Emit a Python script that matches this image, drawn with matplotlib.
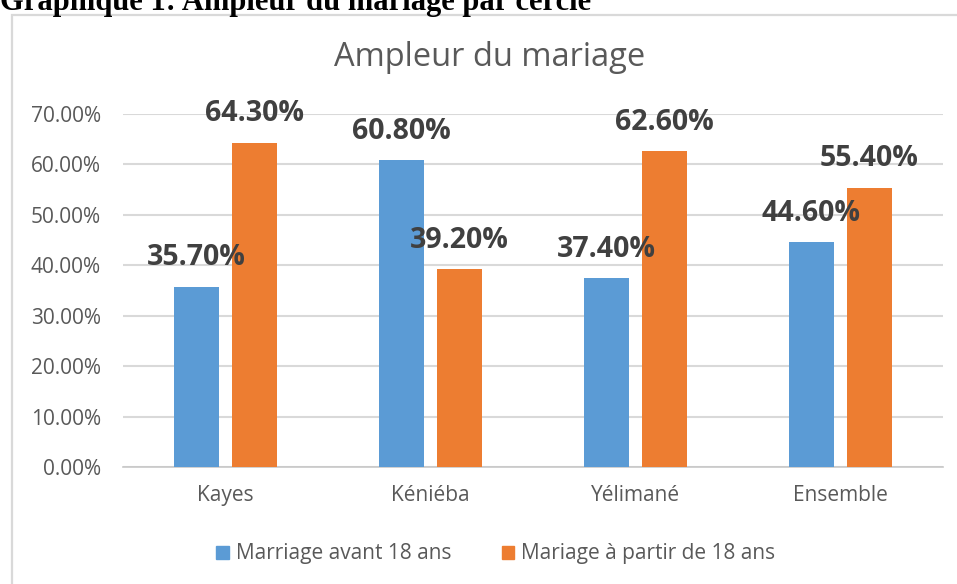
import matplotlib
matplotlib.use("Agg")
import numpy as np
from matplotlib import pyplot as plt
from matplotlib.patches import Patch, Rectangle

categories = ["Kayes", "Kéniéba", "Yélimané", "Ensemble"]
avant_18 = [0.357, 0.608, 0.374, 0.446]
apres_18 = [0.643, 0.392, 0.626, 0.554]
series_names = ["Marriage avant 18 ans", "Mariage à partir de 18 ans"]
yticks = [0.0, 0.1, 0.2, 0.3, 0.4, 0.5, 0.6, 0.7]

blue = "#5B9BD5"
orange = "#ED7D31"
grey_txt = "#595959"

plt.rcParams['font.family'] = ['Open Sans', 'DejaVu Sans']

fig = plt.figure(figsize=(9.57, 5.84), dpi=100)

# chart frame (only left and top edges visible in the crop)
fig.patches.append(Rectangle((12 / 957, -0.1), 1.2, 1 - 15 / 584 + 0.1,
                             transform=fig.transFigure, fill=False,
                             edgecolor="#D9D9D9", linewidth=1.6))

# page heading, cut off by the crop
fig.text(0.0, 1 - 10 / 584, "Graphique 1: Ampleur du mariage par cercle",
         family="Liberation Serif", fontweight="bold", fontsize=22,
         ha="left", va="baseline", color="black")

ax = fig.add_axes([123 / 957, 1 - 467 / 584, (943 - 123) / 957, (467 - 114) / 584])

x = np.arange(len(categories))
w = 0.224
off = 0.1415
b1 = ax.bar(x - off, avant_18, w, color=blue, zorder=3)
b2 = ax.bar(x + off, apres_18, w, color=orange, zorder=3)

for bars, vals in [(b1, avant_18), (b2, apres_18)]:
    for rect, v in zip(bars, vals):
        ax.annotate(f"{v * 100:.2f}%",
                    (rect.get_x() + rect.get_width() / 2, v),
                    xytext=(0, 10.5), textcoords="offset points",
                    ha="center", va="bottom", fontsize=20.5,
                    fontweight="bold", color="#404040", zorder=5)

ax.set_xlim(-0.5, 3.5)
ax.set_ylim(0, 0.7)
ax.set_yticks(yticks)
ax.set_yticklabels([f"{t * 100:.2f}%" for t in yticks])
ax.set_xticks(x)
ax.set_xticklabels(categories)
ax.tick_params(axis="y", length=0, pad=16, labelsize=15, labelcolor=grey_txt)
ax.tick_params(axis="x", length=0, pad=13, labelsize=15, labelcolor=grey_txt)
ax.grid(axis="y", color="#D9D9D9", linewidth=1.5, zorder=0)
ax.set_axisbelow(True)
for s in ["top", "right", "left"]:
    ax.spines[s].set_visible(False)
ax.spines["bottom"].set_color("#C8C8C8")
ax.spines["bottom"].set_linewidth(1.2)

fig.text(490 / 957, 1 - 58 / 584, "Ampleur du mariage", ha="center", va="center",
         fontsize=23.5, color=grey_txt)

handles = [Patch(color=blue), Patch(color=orange)]
fig.legend(handles, series_names, loc="center", bbox_to_anchor=(496 / 957, 1 - 554 / 584),
           ncol=2, frameon=False, fontsize=15, handlelength=0.6, handleheight=0.6,
           handletextpad=0.35, columnspacing=2.4, labelcolor=grey_txt)

fig.savefig("out.png", dpi=100)
